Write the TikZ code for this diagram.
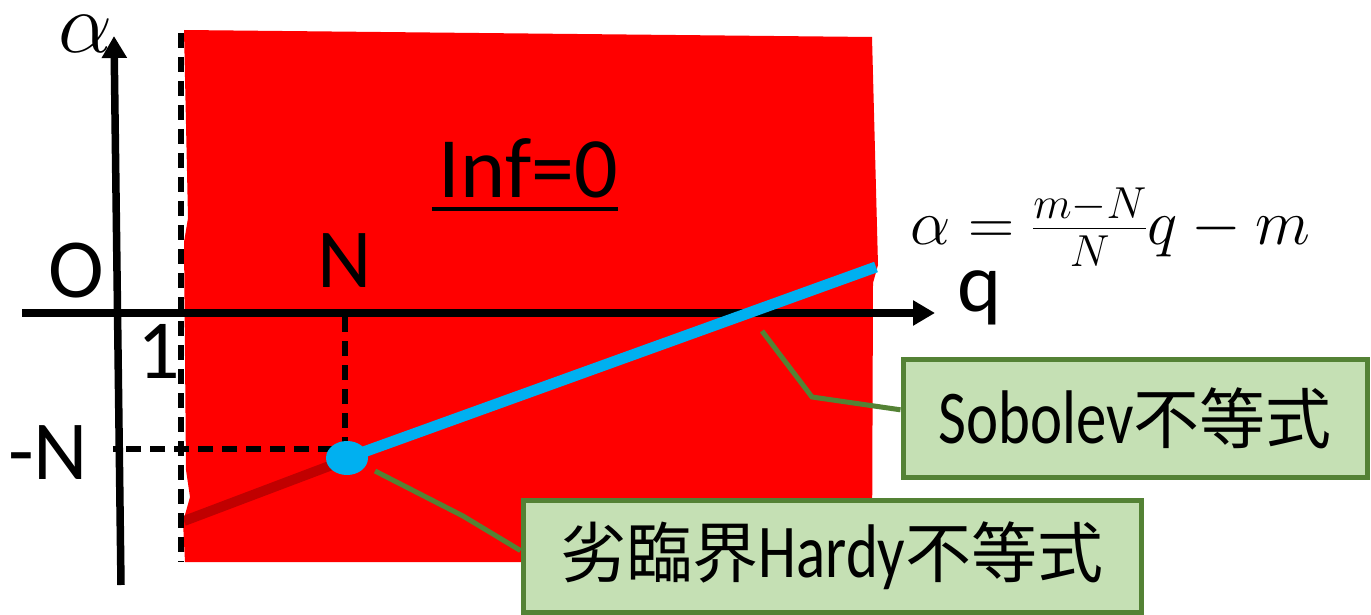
\RequirePackage{fix-cm}
\documentclass[tikz,border=0pt]{standalone}
\usepackage{fontspec}
\setmainfont{Carlito}
\newfontfamily\boxfont[FakeStretch=0.8]{Carlito}
\newfontfamily\cjk{Noto Sans CJK JP}
\usetikzlibrary{arrows.meta}
\definecolor{redfill}{HTML}{FF0000}
\definecolor{darkred}{HTML}{C00000}
\definecolor{skyblue}{HTML}{00B0F0}
\definecolor{olivegreen}{HTML}{548235}
\definecolor{palegreen}{HTML}{C5E0B4}
\begin{document}
\begin{tikzpicture}[x=1pt,y=-1pt,
  axis/.style={line width=7.5pt, -{Triangle[length=22pt,width=24pt]}},
  guide/.style={line width=6pt, dash pattern=on 15pt off 9pt},
  leader/.style={line width=5pt, draw=olivegreen},
  callout/.style={draw=olivegreen, line width=5pt, fill=palegreen, inner sep=0pt},
  lbl/.style={font=\fontsize{84}{84}\selectfont, inner sep=0pt, anchor=base},
  boxtext/.style={font=\boxfont\fontsize{76}{76}\selectfont}]
\useasboundingbox (0,0) rectangle (1371,615);
% red region
\fill[redfill] (184,30) -- (872,37) -- (878,265) -- (873,283) -- (872,562) -- (185,562)
  -- (183,522) -- (190,497) -- (186,470) -- (184,242) -- (188,218) -- cycle;
% coordinates
\coordinate (ybot) at (121,585);
\coordinate (ytop) at (114,36);
\coordinate (xl) at (22,313);
\coordinate (xr) at (935,313);
\coordinate (d1t) at (181,33);
\coordinate (d1b) at (181,562);
\coordinate (Nax) at (345,317);
\coordinate (NN) at (345,449);
\coordinate (mNax) at (113,449);
\coordinate (hs) at (184,521);
\coordinate (he) at (340,462);
\coordinate (P) at (347,458);
\coordinate (bend) at (876,267);
% critical Hardy segment
\draw[line width=10pt, darkred] (hs) -- (he);
% guide lines
\draw[guide] (d1t) -- (d1b);
\draw[guide] (Nax) -- (NN) -- (mNax);
% axes
\draw[axis] (ybot) -- (ytop);
\draw[axis] (xl) -- (xr);
% Sobolev line
\draw[line width=11pt, skyblue] (P) -- (bend);
\fill[skyblue] (P) ellipse [x radius=21, y radius=17];
% labels
\node[anchor=base, inner sep=0pt, font=\fontsize{86}{86}\selectfont] (alab) at (86,53) {$\alpha$};
\node[lbl] (olab) at (76,297) {O};
\node[lbl] (onelab) at (159,378) {1};
\node[lbl] (nlab) at (345,287) {N};
\node[lbl] (mnlab) at (48,479) {-N};
\node[lbl] (qlab) at (980,311) {q};
\node[anchor=base, inner sep=0pt, font=\fontsize{86}{86}\selectfont] (inf) at (525,197)
  {\setbox0=\hbox{\hspace*{7pt}Inf=0}\rlap{\rule[-14pt]{\wd0}{4.5pt}}\box0};
\node[anchor=base west, inner sep=0pt, font=\fontsize{64}{64}\selectfont] (formula) at (910,244) {$\alpha = \frac{m-N}{N}q - m$};
% callouts
\node[callout, minimum width=464pt, minimum height=118pt, boxtext] (sob) at (1135,418)
  {Sobolev{\cjk\fontsize{66}{66}\selectfont 不等式}};
\node[callout, minimum width=618pt, minimum height=112pt, boxtext] (hardy) at (832,556)
  {{\cjk\fontsize{66}{66}\selectfont 劣臨界}Hardy{\cjk\fontsize{66}{66}\selectfont 不等式}};
\coordinate (s1) at (762,331);
\coordinate (s2) at (812,397);
\coordinate (h1) at (375,471);
\coordinate (h2) at (463,516);
\draw[leader] (s1) -- (s2) -- (sob.178);
\draw[leader] (h1) -- (h2) -- (hardy.179);
\end{tikzpicture}
\end{document}
